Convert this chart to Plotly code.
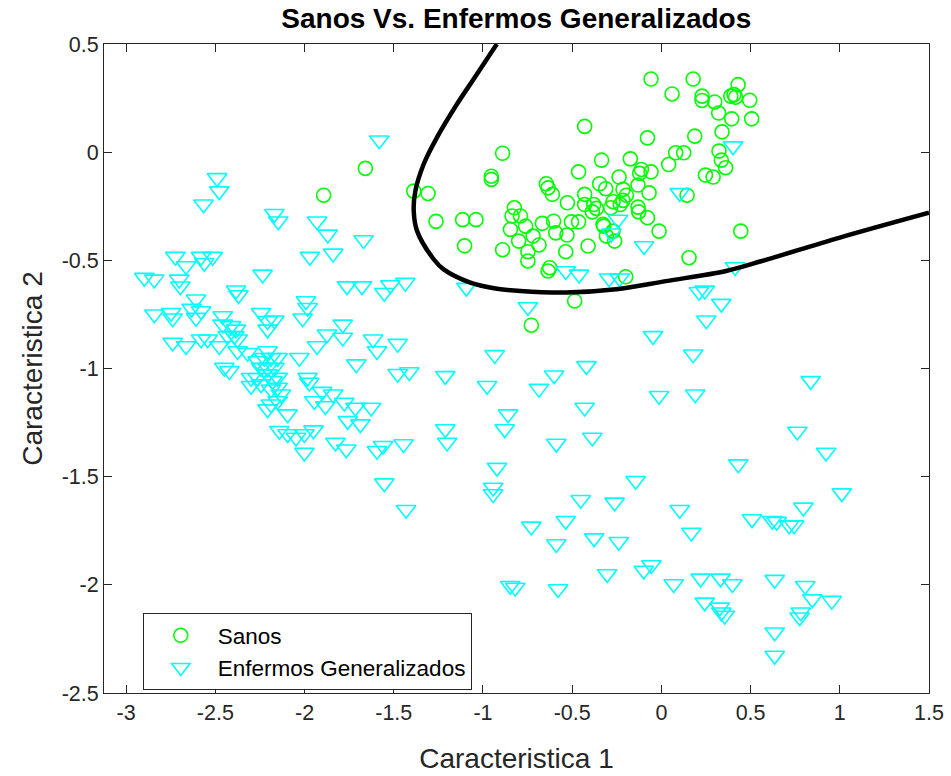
import plotly.graph_objects as go

# Sanos (healthy) samples
sanos_x = [-1.659, -1.893, -1.388, -1.308, -1.263, -1.114, -1.039, -1.103, -0.890, -0.890,
           -0.953, -0.953, -0.824, -0.837, -0.846, -0.800, -0.790, -0.058, 0.178, 0.060,
           0.228, 0.228, 0.299, 0.321, 0.340, -0.430, -0.078, 0.187, 0.323, 0.336,
           0.360, 0.247, 0.290, 0.080, 0.125, 0.041, 0.144, -0.335, -0.174, -0.464,
           -0.112, -0.122, -0.058, -0.237, -0.346, -0.312, -0.131, -0.215, -0.196, -0.215,
           -0.271, -0.230, -0.284, -0.069, -0.645, -0.635, -0.611, -0.527, -0.430, -0.430,
           -0.379, -0.364, -0.387, -0.131, -0.127, -0.078, -0.013, -0.667, -0.604, -0.504,
           -0.464, -0.327, -0.761, -0.719, -0.592, -0.529, -0.686, -0.748, -0.536, -0.411,
           -0.308, -0.271, -0.262, -0.323, 0.155, -0.748, -0.626, -0.635, -0.200, -0.486,
           -0.729, 0.430, 0.389, 0.416, 0.407, 0.495, 0.394, 0.506, 0.445]
sanos_y = [-0.075, -0.199, -0.180, -0.191, -0.320, -0.312, -0.312, -0.433, -0.451, -0.005,
           -0.111, -0.126, -0.257, -0.295, -0.357, -0.411, -0.295, 0.338, 0.338, 0.269,
           0.259, 0.239, 0.232, 0.181, 0.094, 0.119, 0.066, 0.074, 0.005, -0.037,
           -0.072, -0.106, -0.115, -0.003, -0.003, -0.057, -0.199, -0.037, -0.031, -0.091,
           -0.080, -0.098, -0.091, -0.115, -0.146, -0.169, -0.152, -0.172, -0.199, -0.223,
           -0.229, -0.242, -0.257, -0.188, -0.146, -0.165, -0.195, -0.234, -0.195, -0.242,
           -0.242, -0.260, -0.276, -0.254, -0.276, -0.303, -0.365, -0.329, -0.319, -0.322,
           -0.322, -0.334, -0.342, -0.388, -0.373, -0.383, -0.429, -0.460, -0.460, -0.434,
           -0.388, -0.365, -0.411, -0.342, -0.488, -0.503, -0.534, -0.549, -0.576, -0.688,
           -0.800, 0.312, 0.259, 0.254, 0.266, 0.240, 0.154, 0.154, -0.365]

# Enfermos Generalizados samples
enf_x = [-2.490, -2.478, -2.566, -2.169, -2.147, -1.930, -1.870, -1.669, -1.840, -1.581,
         -2.724, -2.664, -2.580, -2.562, -2.515, -1.970,
         -2.898, -2.842, -2.702, -2.696, -2.235, -2.384, -2.370, -2.608, -2.633, -2.580,
         -2.608, -2.842, -2.748, -2.739, -2.244, -2.207, -2.169, -2.207, -2.011, -1.992,
         -1.983, -2.459, -2.459, -2.412, -2.384, -2.393, -2.431, -2.375, -2.739, -2.664,
         -2.580, -2.543, -2.478, -2.375, -2.319, -2.450, -2.421, -2.207, -2.263, -2.226,
         -2.188, -2.151, -2.244, -2.207, -2.169, -2.300, -2.263, -2.300, -2.244, -2.179,
         -2.151, -2.207, -2.188, -2.151, -2.132, -2.188, -2.151, -2.207, -2.095, -2.029,
         -1.983, -1.973, -1.945, -2.141, -2.095, -2.048, -2.001, -2.001, -1.950,
         -1.762, -1.678, -1.519, -1.553, -1.435, -1.093, -1.786, -1.874, -1.786, -1.930,
         -1.616, -1.594, -1.478, -1.710, -1.478, -1.413, -1.211, -0.934, -0.977, -1.902,
         -1.840, -1.883, -1.777, -1.715, -1.627, -1.758, -1.687, -1.827, -1.766, -1.594,
         -1.560, -1.445, -1.211, -1.201, -0.859, -0.878, -0.921,
         -0.536, -0.461, -0.293, -0.234, -0.748, 0.211, 0.243, 0.336, 0.252, -0.047,
         0.178, -0.420, -0.601, -0.686, -0.013, 0.190, -0.430, -0.387, -0.589,
         0.103, -0.243, -0.280, -0.097, 0.402,
         0.413, 0.837, 0.762, 0.923, 0.431,
         -1.553, -1.431, -0.943, -0.943, -0.847, -0.819,
         -0.144, -0.452, -0.262, 0.103, -0.536, -0.729, 0.168, -0.377, -0.239, -0.589,
         -0.304, -0.099, -0.056, 0.069, 0.220, 0.332, 0.243, 0.327, 0.336, 0.355, -0.579,
         1.011, 0.796, 0.508, 0.622, 0.646, 0.716, 0.744, 0.398, 0.635, 0.806,
         0.846, 0.955, 0.781, 0.775, 0.635, 0.635]
enf_y = [-0.119, -0.180, -0.241, -0.285, -0.319, -0.319, -0.380, -0.406, -0.468, 0.055,
         -0.483, -0.526, -0.483, -0.511, -0.483, -0.483,
         -0.580, -0.588, -0.588, -0.620, -0.565, -0.638, -0.660, -0.680, -0.723, -0.734,
         -0.765, -0.749, -0.742, -0.768, -0.742, -0.780, -0.777, -0.819, -0.768, -0.688,
         -0.719, -0.757, -0.796, -0.803, -0.819, -0.849, -0.849, -0.865, -0.880, -0.896,
         -0.865, -0.865, -0.896, -0.919, -0.927, -0.996, -1.011, -0.919, -0.965, -0.950,
         -0.950, -0.950, -0.996, -0.996, -0.996, -1.043, -1.043, -1.080, -1.072, -1.057,
         -1.042, -1.026, -1.096, -1.088, -1.119, -1.165, -1.150, -1.188, -1.211, -0.950,
         -1.042, -1.065, -1.150, -1.288, -1.303, -1.319, -1.303, -1.388, -1.285,
         -0.619, -0.619, -0.614, -0.650, -0.603, -0.626, -0.796, -0.842, -0.857, -0.896,
         -0.865, -0.919, -0.885, -0.980, -1.024, -1.016, -1.034, -0.937, -1.080, -1.107,
         -1.119, -1.173, -1.157, -1.180, -1.180, -1.242, -1.257, -1.342, -1.373, -1.380,
         -1.357, -1.349, -1.280, -1.342, -1.211, -1.280, -1.458,
         -0.549, -0.565, -0.583, -0.583, -0.716, -0.645, -0.639, -0.700, -0.777, -0.849,
         -0.934, -0.988, -1.031, -1.093, -1.126, -1.119, -1.180, -1.319, -1.347,
         -0.188, -0.311, -0.375, -0.434, 0.028,
         -0.531, -1.057, -1.291, -1.388, -1.442,
         -1.530, -1.653, -1.550, -1.580, -2.004, -2.012,
         -1.519, -1.607, -1.619, -1.653, -1.704, -1.730, -1.758, -1.784, -1.801, -1.811,
         -1.950, -1.934, -1.908, -1.996, -1.970, -1.970, -2.081, -2.104, -2.127, -2.142, -2.019,
         -1.576, -1.642, -1.696, -1.704, -1.708, -1.724, -1.724, -1.996, -1.976, -2.004,
         -2.066, -2.073, -2.127, -2.150, -2.219, -2.327]

# Decision boundary between the two classes
frontera_x = [-0.922, -1.035, -1.147, -1.259, -1.333, -1.379, -1.388, -1.369, -1.276, -1.220,
              -1.071, -0.921, -0.790, -0.533, -0.253, 0.026, 0.363, 0.564, 0.996, 1.500]
frontera_y = [0.500, 0.359, 0.220, 0.066, -0.057, -0.180, -0.272, -0.365, -0.495, -0.542,
              -0.603, -0.631, -0.642, -0.649, -0.634, -0.596, -0.549, -0.503, -0.396, -0.280]

x_ticks = [-3, -2.5, -2, -1.5, -1, -0.5, 0, 0.5, 1, 1.5]
x_labels = ["-3", "-2.5", "-2", "-1.5", "-1", "-0.5", "0", "0.5", "1", "1.5"]
y_ticks = [0.5, 0, -0.5, -1, -1.5, -2, -2.5]
y_labels = ["0.5", "0", "-0.5", "-1", "-1.5", "-2", "-2.5"]

FONT = "Liberation Sans, Arial, sans-serif"
AXC = "#262626"

fig = go.Figure()
fig.add_trace(go.Scatter(
    x=sanos_x, y=sanos_y, mode="markers", name="Sanos",
    marker=dict(symbol="circle-open", size=14, color="#00ff00", line=dict(width=1.6, color="#00ff00")),
))
fig.add_trace(go.Scatter(
    x=enf_x, y=enf_y, mode="markers", name="Enfermos Generalizados",
    marker=dict(symbol="triangle-down-open", size=17, color="#00ffff", line=dict(width=1.6, color="#00ffff")),
))
fig.add_trace(go.Scatter(
    x=frontera_x, y=frontera_y, mode="lines", showlegend=False,
    line=dict(color="black", width=4.5, shape="spline", smoothing=1.0),
))

axis_common = dict(
    showline=True, linecolor=AXC, linewidth=1, mirror="ticks",
    ticks="inside", ticklen=8, tickwidth=1.3, tickcolor=AXC,
    showgrid=False, zeroline=False, automargin=False,
    tickfont=dict(family=FONT, size=21.5, color=AXC),
)

fig.update_layout(
    width=951, height=776,
    margin=dict(l=104, r=22, t=44, b=83, autoexpand=False),
    paper_bgcolor="white", plot_bgcolor="white",
    title=dict(text="<b>Sanos Vs. Enfermos Generalizados</b>", x=0.5429, xanchor="center",
               y=0.977, yanchor="middle", font=dict(family=FONT, size=28, color="black")),
    xaxis=dict(range=[-3.124, 1.5], tickvals=x_ticks, ticktext=x_labels,
               title=dict(text="Caracteristica 1", font=dict(family=FONT, size=28, color=AXC), standoff=24),
               **axis_common),
    yaxis=dict(range=[-2.5, 0.5], tickvals=y_ticks, ticktext=y_labels,
               title=dict(text="Caracteristica 2", font=dict(family=FONT, size=28, color=AXC), standoff=10),
               **axis_common),
    legend=dict(x=0.047, y=0.123, xanchor="left", yanchor="top",
                bgcolor="white", bordercolor=AXC, borderwidth=1,
                font=dict(family=FONT, size=22.5, color="black"), itemwidth=64),
    showlegend=True,
)

fig.write_html("out.html")
